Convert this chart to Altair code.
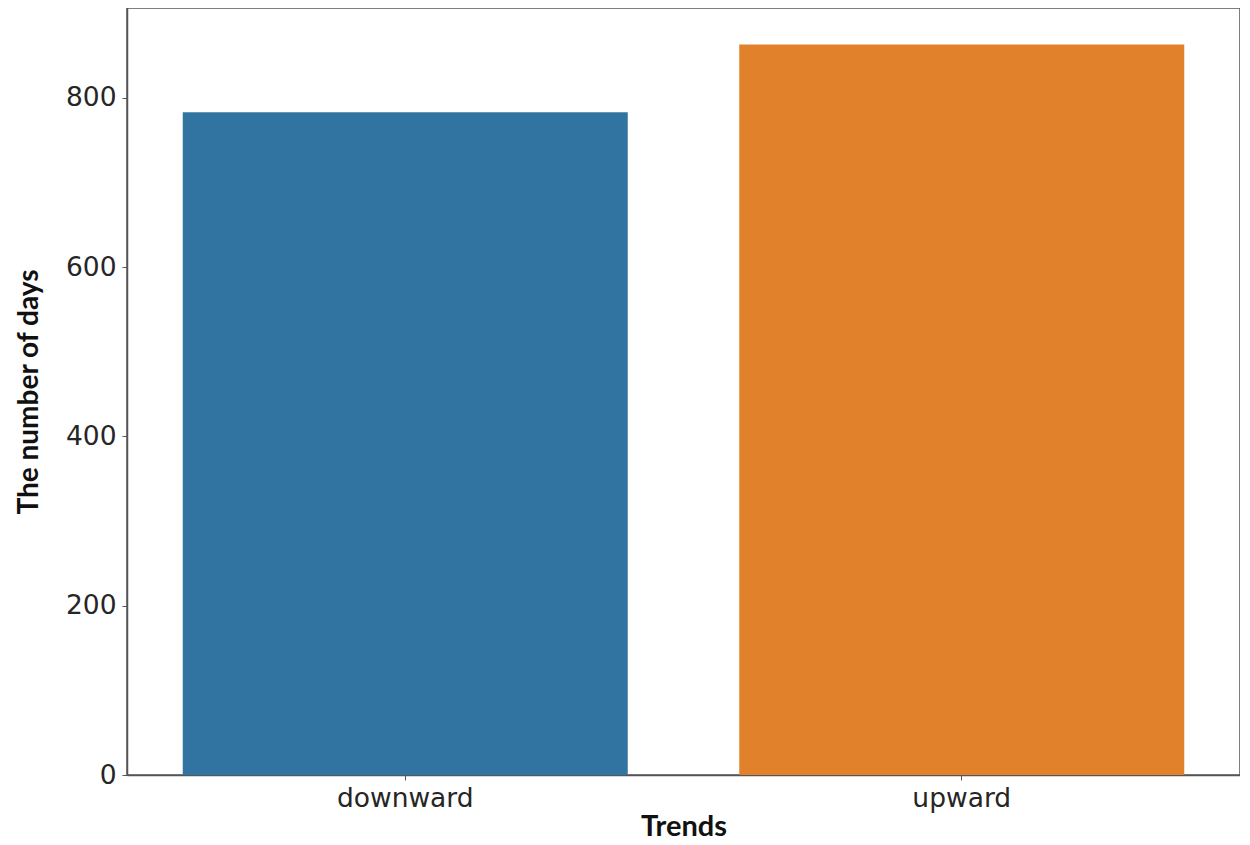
import altair as alt
import pandas as pd

trends = ["downward", "upward"]
days = [783, 863]
colors = ["#3274a1", "#e1812c"]

df = pd.DataFrame({"Trends": trends, "days": days})

frame = "#555555"

chart = alt.Chart(df).mark_bar(size=445).encode(
    x=alt.X("Trends:N", sort=trends, title="Trends",
            scale=alt.Scale(paddingInner=0, paddingOuter=0),
            axis=alt.Axis(labelAngle=0, labelFont="DejaVu Sans", labelFontSize=26.5,
                          labelColor="#262626", labelPadding=5, tickSize=5,
                          titleFont="Lato", titleFontSize=29, titleFontWeight="bold",
                          titleColor="#111111", titlePadding=1)),
    y=alt.Y("days:Q", title="The number of days",
            scale=alt.Scale(domain=[0, 906], nice=False),
            axis=alt.Axis(values=[0, 200, 400, 600, 800], grid=False,
                          labelFont="DejaVu Sans", labelFontSize=26.5, labelColor="#262626",
                          labelPadding=6, tickSize=5,
                          titleFont="Lato", titleFontSize=28, titleFontWeight="bold",
                          titleColor="#111111", titlePadding=22)),
    color=alt.Color("Trends:N", scale=alt.Scale(domain=trends, range=colors), legend=None),
).properties(
    width=1113, height=767,
    autosize=alt.AutoSizeParams(type="none"),
    padding={"left": 119, "top": 0, "right": 0, "bottom": 70},
).configure_view(
    stroke=frame, strokeWidth=1.5
).configure_axis(
    domainColor=frame, tickColor=frame, domainWidth=1.5
)

chart.save("out.html", embed_options={"renderer": "svg", "actions": False})
